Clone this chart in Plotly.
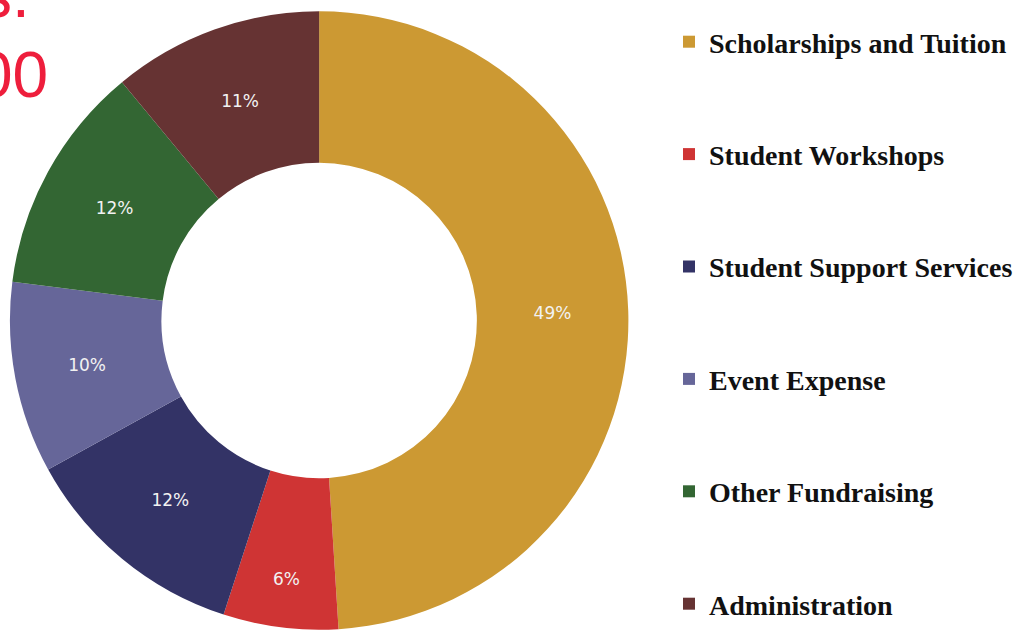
import plotly.graph_objects as go

categories = ["Scholarships and Tuition", "Student Workshops", "Student Support Services",
              "Event Expense", "Other Fundraising", "Administration"]
values = [49, 6, 12, 10, 12, 11]
colors = ["#CC9933", "#CF3434", "#333366", "#666699", "#336633", "#663333"]
title_fragments = ["s.", "00"]

W, H = 1018, 632

fig = go.Figure()
fig.add_trace(go.Pie(
    labels=categories, values=values, sort=False, direction="clockwise", rotation=0,
    hole=0.51, marker=dict(colors=colors, line=dict(width=0)),
    textinfo="percent", texttemplate="%{percent:.0%}", textposition="inside",
    insidetextorientation="horizontal",
    textfont=dict(family="DejaVu Sans", size=17, color="#F2F2F2"),
    showlegend=False,
    domain=dict(x=[10 / W, 634 / W], y=[0, 1 - 9 / H]),
))

for name, c in zip(categories, colors):
    fig.add_trace(go.Scatter(x=[None], y=[None], mode="markers", name=name,
                             marker=dict(symbol="square", size=12, color=c),
                             legendgroup=name, showlegend=True))

fig.update_layout(
    width=W, height=H, margin=dict(l=0, r=0, t=0, b=0),
    paper_bgcolor="white", plot_bgcolor="white",
    xaxis=dict(visible=False), yaxis=dict(visible=False),
    legend=dict(x=675 / W, xanchor="left", y=1 - 17 / H, yanchor="top",
                font=dict(family="Liberation Serif", size=28, color="#111111", weight="bold"),
                tracegroupgap=73, itemwidth=30, bgcolor="rgba(0,0,0,0)"),
    annotations=[
        dict(text=title_fragments[0], x=32 / W, y=1 + 5 / H, xref="paper", yref="paper",
             xanchor="right", yanchor="middle", showarrow=False,
             font=dict(family="Liberation Sans", size=64, color="#EE1E3C")),
        dict(text=title_fragments[1], x=50 / W, y=1 - 75 / H, xref="paper", yref="paper",
             xanchor="right", yanchor="middle", showarrow=False,
             font=dict(family="Liberation Sans", size=64, color="#EE1E3C")),
    ],
)

fig.write_html("out.html", config={"displayModeBar": False},
               post_script="document.body.style.margin='0';")
